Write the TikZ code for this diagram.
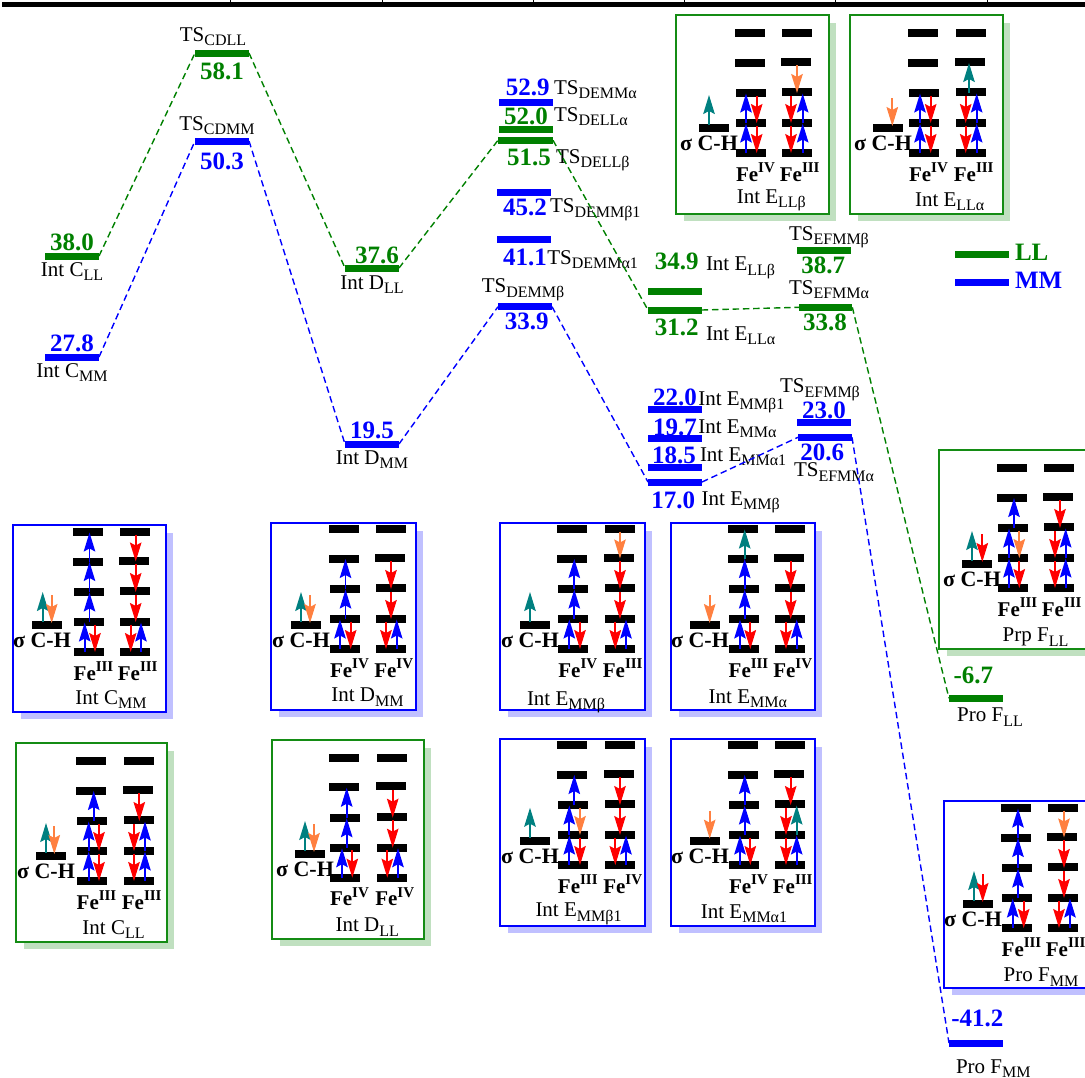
\documentclass[tikz,border=0pt]{standalone}
\usepackage{fontspec}
\setmainfont{Liberation Serif}
\usetikzlibrary{arrows.meta}
\definecolor{gr}{RGB}{0,128,0}
\definecolor{frgr}{RGB}{20,140,20}
\definecolor{bl}{RGB}{0,0,255}
\definecolor{shb}{RGB}{192,192,255}
\definecolor{shg}{RGB}{192,224,192}
\definecolor{tl}{RGB}{0,128,128}
\definecolor{og}{RGB}{255,128,64}
\tikzset{
  level/.style={fill=#1,draw=none,minimum height=7pt,inner sep=0pt,outer sep=0pt},
  conn/.style={draw=#1,dashed,dash pattern=on 6.5pt off 3.8pt,line width=1.4pt},
  txt/.style={inner sep=0pt,outer sep=0pt,font=\fontsize{21}{21}\selectfont,text=black},
  val/.style={inner sep=0pt,outer sep=0pt,font=\fontsize{25}{25}\selectfont\bfseries,text=#1},
  fe/.style={inner sep=0pt,outer sep=0pt,font=\fontsize{21}{21}\selectfont\bfseries},
  sg/.style={inner sep=0pt,outer sep=0pt,font=\fontsize{22}{22}\selectfont\bfseries},
  elec/.style={draw=#1,line width=1.7pt,-{Stealth[length=19pt,width=11.5pt,inset=3pt]}},
  pframe/.style={draw=#1,fill=white,line width=2pt},
}
\newcommand\sbs[1]{\raisebox{-4.5pt}{\fontsize{16}{16}\selectfont #1}}
\newcommand\spp[1]{\raisebox{8.5pt}{\fontsize{15}{15}\selectfont #1}}
% level bar: name, x1, x2, y, colour
\newcommand\Lev[5]{\pgfmathsetlengthmacro\Lw{(#3-#2)*1pt}\node[level=#5,minimum width=\Lw] (#1) at ({(#2+#3)/2},#4) {};}
\newcommand\Val[5]{\node[val=#5,anchor=base] (#1) at (#2,#3) {#4};}
\newcommand\Lab[5]{\node[txt,anchor=#5] (#1) at (#2,#3) {#4};}
\def\Lv#1{\ifcase#1 0\or 0\or 29.5\or 60\or 90\or 120\or 120\fi}
% id,x0,y0,x1,y1,frame,shadow
\newcommand\PanelBox[7]{%
  \fill[#7] ({#2+8},{#3+8}) rectangle ({#4+7},{#5+7});
  \draw[pframe=#6] (#2,#3) rectangle (#4,#5);}
\newcommand\Bar[2]{\fill[black] ({#1-15},{#2-4}) rectangle ({#1+15},{#2+4});}
% id,ytop,cxA,cxB,sx,sy,supA,supB
\newcommand\Orbs[8]{%
  \def\ytop{#2}\def\sy{#6}\def\sx{#5}%
  \Bar{#3-1}{#2}\Bar{#3-1}{#2+29.5}\Bar{#3}{#2+60}\Bar{#3}{#2+90}\Bar{#3}{#2+120}
  \Bar{#4}{#2}\Bar{#4-1}{#2+28.5}\Bar{#4}{#2+59}\Bar{#4}{#2+90}\Bar{#4}{#2+120}
  \Bar{#5}{#6}
  \node[sg,anchor=base] (#1-s) at ({#5-5},{#6+22.5}) {σ C-H};
  \node[fe,anchor=base] (#1-a) at ({#3+4.5},{#2+148}) {Fe\spp{#7}};
  \node[fe,anchor=base] (#1-b) at ({#4+2.7},{#2+148}) {Fe\spp{#8}};
}
\newcommand\UA[3]{\draw[elec=#3] (#1,{\ytop+\Lv{\numexpr#2+1\relax}}) -- (#1,{\ytop+\Lv{#2}+0.5});}
\newcommand\DA[3]{\draw[elec=#3] (#1,{\ytop+\Lv{#2}+2.5}) -- (#1,{\ytop+\Lv{\numexpr#2+1\relax}});}
\newcommand\SU[2]{\draw[elec=#2] (#1,{\sy-3}) -- (#1,{\sy-33});}
\newcommand\SD[2]{\draw[elec=#2] (#1,{\sy-30}) -- (#1,{\sy-2});}
\begin{document}
\begin{tikzpicture}[x=1pt,y=-1pt]
\useasboundingbox (0,0) rectangle (1085,1077);
\clip (0,0) rectangle (1085,1077);
% top axis
\draw[black,line width=4.2pt] (2,4.4) -- (1085,4.4);
\foreach \t in {230.5,382,533.5,684.5,835.5,987} \draw[black,line width=1pt] (\t,0) -- (\t,3);

% ---------- panels ----------
% Int C MM
\PanelBox{cmm}{12.7}{524.7}{166}{711.7}{bl}{shb}
\Orbs{cmm}{532}{89}{135}{47}{625}{III}{III}
\UA{89.5}{3}{bl}\UA{89.5}{2}{bl}\UA{89.5}{1}{bl}\UA{84.7}{4}{bl}\DA{95}{4}{red}
\DA{135.7}{1}{red}\DA{135.7}{2}{red}\DA{135.7}{3}{red}\DA{130.7}{4}{red}\UA{141}{4}{bl}
\SU{42.7}{tl}\SD{51.7}{og}
\Lab{cmm-l}{111}{704}{Int C\sbs{MM}}{base}
% Int D MM
\PanelBox{dmm}{271}{522.7}{415.7}{710}{bl}{shb}
\Orbs{dmm}{529}{345}{391}{306}{625}{IV}{IV}
\UA{345.5}{3}{bl}\UA{345.5}{2}{bl}\UA{340}{4}{bl}\DA{350.7}{4}{red}
\DA{391}{2}{red}\DA{391}{3}{red}\DA{386}{4}{red}\UA{396.7}{4}{bl}
\SU{301}{tl}\SD{310}{og}
\Lab{dmm-l}{367.5}{701.7}{Int D\sbs{MM}}{base}
% Int C LL
\PanelBox{cll}{16.3}{743.3}{166.7}{942.3}{frgr}{shg}
\Orbs{cll}{761}{92}{139}{51}{856}{III}{III}
\UA{93.7}{2}{bl}\UA{88.7}{3}{bl}\UA{88.7}{4}{bl}\DA{99}{3}{red}\DA{99}{4}{red}
\DA{139.3}{2}{red}\DA{134}{3}{red}\DA{134}{4}{red}\UA{145}{3}{bl}\UA{145}{4}{bl}
\SU{46}{tl}\SD{54.3}{og}
\Lab{cll-l}{113.5}{934.3}{Int C\sbs{LL}}{base}
% Int D LL
\PanelBox{dll}{271.7}{740.3}{424.3}{939.3}{frgr}{shg}
\Orbs{dll}{757.7}{345}{392}{310}{854}{IV}{IV}
\UA{346.7}{3}{bl}\UA{346.7}{2}{bl}\UA{342}{4}{bl}\DA{352.3}{4}{red}
\DA{392.7}{2}{red}\DA{392.7}{3}{red}\DA{387.3}{4}{red}\UA{398}{4}{bl}
\SU{305}{tl}\SD{314}{og}
\Lab{dll-l}{367.3}{931.7}{Int D\sbs{LL}}{base}
% Int E MM beta
\PanelBox{emb}{500}{522.7}{644.7}{710}{bl}{shb}
\Orbs{emb}{529}{573.3}{620}{535}{625}{IV}{III}
\UA{574.3}{3}{bl}\UA{574.3}{2}{bl}\UA{569.3}{4}{bl}\DA{580}{4}{red}
\DA{620}{1}{og}\DA{620}{2}{red}\DA{620}{3}{red}\DA{615.3}{4}{red}\UA{626}{4}{bl}
\SU{530}{tl}
\Lab{emb-l}{566}{705}{Int E\sbs{MMβ}}{base}
% Int E MM alpha
\PanelBox{ema}{670.7}{522.7}{815}{710}{bl}{shb}
\Orbs{ema}{529}{744}{790}{705}{625}{III}{IV}
\UA{744.7}{1}{tl}\UA{744.7}{2}{bl}\UA{744.7}{3}{bl}\UA{740}{4}{bl}\DA{750.3}{4}{red}
\DA{790.7}{2}{red}\DA{790.7}{3}{red}\DA{786}{4}{red}\UA{796.7}{4}{bl}
\SD{709.7}{og}
\Lab{ema-l}{747.8}{703}{Int E\sbs{MMα}}{base}
% Int E MM beta1
\PanelBox{eb1}{500}{738.7}{644.7}{926}{bl}{shb}
\Orbs{eb1}{745}{573.3}{620}{535}{840.7}{III}{IV}
\UA{574.3}{2}{bl}\UA{569.3}{3}{bl}\UA{569.3}{4}{bl}\DA{580}{3}{og}\DA{580}{4}{red}
\DA{620}{2}{red}\DA{620}{3}{red}\DA{615.3}{4}{red}\UA{626}{4}{bl}
\SU{530}{tl}
\Lab{eb1-l}{578.5}{916.7}{Int E\sbs{MMβ1}}{base}
% Int E MM alpha1
\PanelBox{ea1}{670.7}{738.7}{815}{926}{bl}{shb}
\Orbs{ea1}{745}{744}{790}{705}{840.7}{IV}{III}
\UA{744.7}{3}{bl}\UA{744.7}{2}{bl}\UA{740}{4}{bl}\DA{750.3}{4}{red}
\DA{790.7}{2}{red}\DA{786}{3}{red}\DA{786}{4}{red}\UA{796.7}{3}{tl}\UA{796.7}{4}{bl}
\SD{709.7}{og}
\Lab{ea1-l}{744}{918}{Int E\sbs{MMα1}}{base}
% Int E LL beta
\PanelBox{elb}{676}{14.7}{829.3}{213.7}{frgr}{shg}
\Orbs{elb}{33}{751}{797}{714}{128}{IV}{III}
\UA{746}{3}{bl}\UA{746}{4}{bl}\DA{756.7}{3}{red}\DA{756.7}{4}{red}
\DA{797}{2}{og}\DA{791}{3}{red}\DA{791}{4}{red}\UA{802.7}{3}{bl}\UA{802.7}{4}{bl}
\SU{709}{tl}
\Lab{elb-l}{771.3}{203}{Int E\sbs{LLβ}}{base}
% Int E LL alpha
\PanelBox{ela}{850.3}{14.7}{1003.3}{213.7}{frgr}{shg}
\Orbs{ela}{33}{924}{971}{888}{128}{IV}{III}
\UA{920}{3}{bl}\UA{920}{4}{bl}\DA{930.7}{3}{red}\DA{930.7}{4}{red}
\UA{969}{2}{tl}\DA{965.7}{3}{red}\DA{965.7}{4}{red}\UA{976.7}{3}{bl}\UA{976.7}{4}{bl}
\SD{892.3}{og}
\Lab{ela-l}{949.7}{206}{Int E\sbs{LLα}}{base}
% Prp F LL
\PanelBox{pfl}{939}{450}{1110}{649.3}{frgr}{shg}
\Orbs{pfl}{468}{1013}{1059}{977}{564}{III}{III}
\UA{1014}{2}{bl}\UA{1009}{3}{bl}\UA{1009}{4}{bl}\DA{1019.3}{3}{og}\DA{1019.3}{4}{red}
\DA{1060}{2}{red}\DA{1055}{3}{red}\DA{1055}{4}{red}\UA{1065.7}{3}{bl}\UA{1065.7}{4}{bl}
\SU{972}{tl}\SD{982.3}{red}
\Lab{pfl-l}{1035.5}{641.7}{Prp F\sbs{LL}}{base}
% Pro F MM
\PanelBox{pfm}{944}{801}{1110}{988.3}{bl}{shb}
\Orbs{pfm}{808}{1017}{1063}{978}{904}{III}{III}
\UA{1018}{3}{bl}\UA{1018}{2}{bl}\UA{1018}{1}{bl}\UA{1012.7}{4}{bl}\DA{1023.7}{4}{red}
\DA{1064}{1}{og}\DA{1064}{2}{red}\DA{1064}{3}{red}\DA{1059}{4}{red}\UA{1070}{4}{bl}
\SU{974}{tl}\SD{982.7}{red}
\Lab{pfm-l}{1041}{981.7}{Pro F\sbs{MM}}{base}

% ---------- energy levels ----------
\Lev{CL}{45}{99}{256}{gr}   \Val{vCL}{72}{250}{38.0}{gr}   \Lab{lCL}{72}{276}{Int C\sbs{LL}}{base}
\Lev{CM}{45}{99}{357}{bl}   \Val{vCM}{72}{351}{27.8}{bl}   \Lab{lCM}{72}{377}{Int C\sbs{MM}}{base}
\Lev{TCL}{195}{249}{53}{gr} \Lab{lTCL}{213}{41}{TS\sbs{CDLL}}{base}  \Val{vTCL}{222}{79}{58.1}{gr}
\Lev{TCM}{195}{249}{141}{bl}\Lab{lTCM}{217}{130}{TS\sbs{CDMM}}{base} \Val{vTCM}{222}{169}{50.3}{bl}
\Lev{DL}{345}{399}{268}{gr} \Val{vDL}{377}{263}{37.6}{gr}  \Lab{lDL}{372}{289}{Int D\sbs{LL}}{base}
\Lev{DM}{345}{399}{444}{bl} \Val{vDM}{372}{438}{19.5}{bl}  \Lab{lDM}{372}{464}{Int D\sbs{MM}}{base}
\Lev{TDa}{499}{552.7}{102}{bl}    \Val{vTDa}{527.7}{95}{52.9}{bl}   \Lab{lTDa}{554}{94}{TS\sbs{DEMMα}}{base west}
\Lev{TDLa}{499}{552.7}{129.3}{gr} \Val{vTDLa}{526}{124}{52.0}{gr}   \Lab{lTDLa}{554}{121}{TS\sbs{DELLα}}{base west}
\Lev{TDLb}{498}{553}{140.3}{gr}   \Val{vTDLb}{529}{165}{51.5}{gr}   \Lab{lTDLb}{556}{163}{TS\sbs{DELLβ}}{base west}
\Lev{TDb1}{497}{551}{192.7}{bl}   \Val{vTDb1}{525}{215.7}{45.2}{bl} \Lab{lTDb1}{550}{212.7}{TS\sbs{DEMMβ1}}{base west}
\Lev{TDa1}{497}{551}{239.7}{bl}   \Val{vTDa1}{525}{265}{41.1}{bl}   \Lab{lTDa1}{547.3}{264}{TS\sbs{DEMMα1}}{base west}
\Lev{TDb}{498}{552}{306.7}{bl}    \Lab{lTDb}{523}{292.7}{TS\sbs{DEMMβ}}{base} \Val{vTDb}{526.7}{329}{33.9}{bl}
\Lev{ELb}{648}{701.7}{291.7}{gr}  \Val{vELb}{676.7}{269.3}{34.9}{gr} \Lab{lELb}{706}{270.7}{Int E\sbs{LLβ}}{base west}
\Lev{ELa}{648}{701.7}{310}{gr}    \Val{vELa}{676.7}{335}{31.2}{gr}   \Lab{lELa}{706}{340}{Int E\sbs{LLα}}{base west}
\Lev{TEb}{797}{851}{250.7}{gr}    \Lab{lTEb}{829}{240}{TS\sbs{EFMMβ}}{base}   \Val{vTEb}{823.3}{273.3}{38.7}{gr}
\Lev{TEa}{799}{852.3}{307.3}{gr}  \Lab{lTEa}{829}{294.3}{TS\sbs{EFMMα}}{base} \Val{vTEa}{825}{330.7}{33.8}{gr}
\Lev{EMb1}{648}{702}{409.7}{bl}   \Val{vEMb1}{675}{405.7}{22.0}{bl} \Lab{lEMb1}{698.3}{405}{Int E\sbs{MMβ1}}{base west}
\Lev{EMa}{648}{702}{438.7}{bl}    \Val{vEMa}{675}{435}{19.7}{bl}    \Lab{lEMa}{698.3}{433.3}{Int E\sbs{MMα}}{base west}
\Lev{EMa1}{648.3}{701.7}{467.7}{bl}\Val{vEMa1}{674}{463.3}{18.5}{bl}\Lab{lEMa1}{700}{461}{Int E\sbs{MMα1}}{base west}
\Lev{EMb}{648}{702}{482}{bl}      \Val{vEMb}{673.3}{508.3}{17.0}{bl}\Lab{lEMb}{701.7}{505}{Int E\sbs{MMβ}}{base west}
\Lev{TMb}{797}{851}{422.7}{bl}    \Lab{lTMb}{820}{392.7}{TS\sbs{EFMMβ}}{base} \Val{vTMb}{824}{418.3}{23.0}{bl}
\Lev{TMa}{798}{852}{437.3}{bl}    \Val{vTMa}{822.3}{460.7}{20.6}{bl} \Lab{lTMa}{834}{476.7}{TS\sbs{EFMMα}}{base}
\Lev{PL}{949}{1002.7}{698.3}{gr}  \Val{vPL}{973.3}{683.3}{-6.7}{gr}  \Lab{lPL}{990}{721.7}{Pro F\sbs{LL}}{base}
\Lev{PM}{949}{1002.7}{1043}{bl}   \Val{vPM}{977.3}{1026.7}{-41.2}{bl}\Lab{lPM}{993.3}{1073.3}{Pro F\sbs{MM}}{base}
% legend
\Lev{legL}{955}{1009}{254}{gr} \node[val=gr,anchor=base west] (tL) at (1015,260) {LL};
\Lev{legM}{955}{1009}{282}{bl} \node[val=bl,anchor=base west] (tM) at (1015,288) {MM};
% connectors
\draw[conn=gr] (CL.east) -- (TCL.west);
\draw[conn=gr] (TCL.east) -- (DL.west);
\draw[conn=gr] (DL.east) -- (TDLb.west);
\draw[conn=gr] (TDLb.east) -- (ELa.west);
\draw[conn=gr] (ELa.east) -- (TEa.west);
\draw[conn=gr] (TEa.east) -- (PL.west);
\draw[conn=bl] (CM.east) -- (TCM.west);
\draw[conn=bl] (TCM.east) -- (DM.west);
\draw[conn=bl] (DM.east) -- (TDb.west);
\draw[conn=bl] (TDb.east) -- (EMb.west);
\draw[conn=bl] (EMb.east) -- (TMa.west);
\draw[conn=bl] (TMa.east) -- (PM.west);
\end{tikzpicture}
\end{document}
